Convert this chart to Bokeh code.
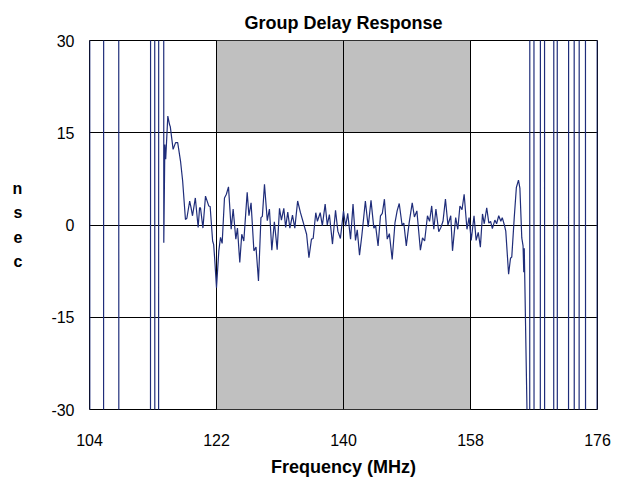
from bokeh.plotting import figure
from bokeh.models import FixedTicker
from bokeh.embed import file_html
from bokeh.resources import INLINE

# ---- data ----
freq_mhz = [
    104.0, 104.08, 105.95, 106.05, 108.1, 108.2, 112.6, 112.7, 113.2, 113.3,
    113.75, 113.85, 114.45,
    114.53, 114.68, 114.8, 115.1, 115.35, 115.45, 115.85, 116.2, 116.5, 116.9,
    117.2, 117.6, 117.8, 118.2, 118.4, 118.6, 119.0, 119.4, 119.6, 119.73,
    120.08, 120.44, 120.9, 121.1, 121.45, 121.6, 121.75, 122.0, 122.33, 122.57,
    122.8, 123.13, 123.4, 123.7, 124.08, 124.36, 124.74, 124.97, 125.3, 125.58,
    125.87, 126.35, 126.6, 126.9, 127.3, 127.6, 127.95, 128.3, 128.5, 128.8,
    129.2, 129.5, 129.84, 130.2, 130.6, 130.93, 131.2, 131.54, 131.8, 132.1,
    132.4, 132.77, 133.1, 133.5, 133.9, 134.3, 134.77, 135.1, 135.46, 135.7,
    136.07, 136.3, 136.7, 137.0, 137.4, 137.7, 138.0, 138.44, 138.87, 139.2,
    139.56, 140.0, 140.3, 140.6, 141.0, 141.35, 141.7, 141.95, 142.27, 142.6,
    143.1, 143.5, 143.9, 144.3, 144.55, 144.9, 145.24, 145.5, 145.8, 146.2,
    146.5, 146.9, 147.3, 147.6, 147.9, 148.3, 148.55, 148.9, 149.3, 149.74,
    150.05, 150.4, 150.9, 151.2, 151.5, 151.9, 152.2, 152.5, 152.8, 153.1,
    153.5, 153.8, 154.1, 154.45, 154.8, 155.2, 155.45, 155.9, 156.2, 156.5,
    156.8, 157.1, 157.5, 157.8, 158.1, 158.5, 158.8, 159.1, 159.4, 159.7,
    159.95, 160.3, 160.6, 160.85, 161.1, 161.45, 161.7, 162.0, 162.3, 162.5,
    162.8, 163.0, 163.4, 163.67, 163.85, 164.2, 164.5, 164.8, 165.0, 165.27,
    165.45, 165.55, 165.62, 166.02, 166.1,
    166.35, 166.45, 166.95, 167.05, 167.85, 167.95, 168.45, 168.55, 169.75,
    169.85, 170.25, 170.35, 171.85, 171.95, 172.65, 172.75, 173.35, 173.45,
    174.25, 174.35, 175.9, 176.0,
]
delay_ns = [
    300, -300, -300, 300, 300, -300, -300, 300, 300, -300,
    -300, 300, 300,
    -2.9, 13.1, 10.7, 17.7, 16.3, 16.0, 12.3, 13.4, 13.4, 10.4,
    7.2, 0.9, 1.1, 3.9, 2.8, 1.5, 4.4, -0.4, 2.8, 2.8,
    -0.5, 4.7, 3.1, 3.0, -2.6, -3.2, -5.6, -10.2, -4.2, -2.0,
    -3.0, 4.4, 5.0, 6.2, -0.7, 2.6, -2.3, -0.5, -6.1, -1.5,
    -2.6, 5.3, 1.5, 3.6, -4.2, -3.6, -9.1, 1.2, 1.4, 6.6,
    0.7, 2.6, -4.1, 0.5, -4.0, 2.7, 0.8, 2.7, -0.4, 2.1,
    -0.5, 1.6, -0.5, 3.9, 2.0, 0.4, -1.5, -5.3, -2.3, -2.2,
    2.0, 0.6, 2.0, -0.1, 3.4, 0.0, 1.7, -3.1, 2.4, -1.0,
    -2.2, 2.3, -0.2, 1.9, -2.3, 3.4, -2.5, -0.8, -4.9, -1.7,
    3.9, -0.3, 4.0, -0.5, -0.1, -3.4, 1.5, 1.9, 4.2, -2.3,
    -1.4, -5.6, 0.4, 2.3, 3.5, 0.0, 0.3, -3.4, 0.3, 3.6,
    1.3, 2.3, -4.1, -2.1, -2.6, 1.5, 0.6, 3.1, -0.7, 2.6,
    -1.1, -0.4, 0.6, 4.2, 0.0, 1.5, -4.2, 1.2, -0.7, 3.1,
    2.5, 5.0, -0.7, 1.2, -2.5, 1.5, -2.5, -1.2, -3.6, 1.8,
    0.2, 2.8, 0.3, 0.6, -0.6, 0.8, 0.2, 1.5, 0.6, 1.2,
    0.0, -1.0, -8.0, -5.4, -5.2, 1.2, 6.1, 7.3, 6.0, -2.1,
    -3.4, -7.7, -3.8, -31, -300,
    -300, 300, 300, -300, -300, 300, 300, -300, -300,
    300, 300, -300, -300, 300, 300, -300, -300, 300,
    300, -300, -300, 300,
]

x_ticks = [104, 122, 140, 158, 176]
y_ticks = [-30, -15, 0, 15, 30]
y_tick_labels = {-30: "-30", -15: "-15", 0: "0", 15: "15", 30: "30"}

# specification bands (upper and lower limits outside the passband)
band_left = [122, 122]
band_right = [158, 158]
band_top = [30, -15]
band_bottom = [15, -30]

title_text = "Group Delay Response"
x_label = "Frequency (MHz)"
y_label_letters = ["n", "s", "e", "c"]

FONT = "Liberation Sans"

W, H = 614, 479
p = figure(width=W, height=H, x_range=(104, 176), y_range=(-30, 30),
           output_backend="svg", toolbar_location=None,
           min_border_left=89, min_border_right=W - 597,
           min_border_top=40, min_border_bottom=H - 409,
           background_fill_color="white", border_fill_color="white")

p.quad(left=band_left, right=band_right, top=band_top, bottom=band_bottom,
       fill_color="#C0C0C0", line_color=None, level="image")

p.line(freq_mhz, delay_ns, line_color="#1F2D7A", line_width=1.2)

p.outline_line_color = "black"
p.outline_line_width = 1

for ax in (p.xaxis, p.yaxis):
    ax.major_tick_out = 0
    ax.major_tick_in = 0
    ax.minor_tick_out = 0
    ax.minor_tick_in = 0
    ax.axis_line_color = None
    ax.major_label_text_font = FONT
    ax.major_label_text_font_size = "16px"
    ax.major_label_text_color = "black"

p.xaxis.ticker = FixedTicker(ticks=x_ticks)
p.yaxis.ticker = FixedTicker(ticks=y_ticks)
p.yaxis.major_label_overrides = y_tick_labels
p.xaxis.major_label_standoff = 24
p.yaxis.major_label_standoff = 15

p.xgrid.ticker = FixedTicker(ticks=x_ticks)
p.ygrid.ticker = FixedTicker(ticks=y_ticks)
for g in (p.xgrid, p.ygrid):
    g.grid_line_color = "black"
    g.grid_line_alpha = 1.0
    g.grid_line_width = 1

p.xaxis.axis_label = x_label
p.xaxis.axis_label_text_font = FONT
p.xaxis.axis_label_text_font_style = "bold"
p.xaxis.axis_label_text_font_size = "18px"
p.xaxis.axis_label_standoff = 8
p.xaxis.axis_label_text_color = "black"

p.yaxis.axis_label = "\n".join(y_label_letters)
p.yaxis.axis_label_orientation = "horizontal"
p.yaxis.axis_label_text_font = FONT
p.yaxis.axis_label_text_font_style = "bold"
p.yaxis.axis_label_text_font_size = "16px"
p.yaxis.axis_label_text_line_height = 1.45
p.yaxis.axis_label_standoff = 26
p.yaxis.axis_label_text_color = "black"

p.title.text = title_text
p.title.align = "center"
p.title.text_font = FONT
p.title.text_font_style = "bold"
p.title.text_font_size = "18px"
p.title.text_color = "black"
p.title.standoff = 16

open("out.html", "w").write(file_html(p, INLINE))
